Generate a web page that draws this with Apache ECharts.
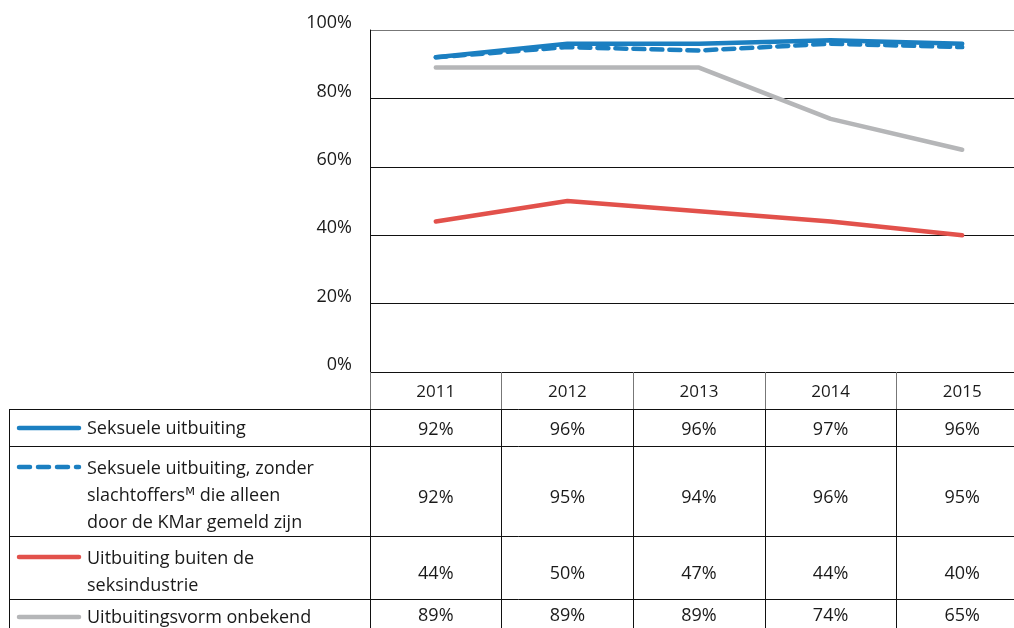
<!DOCTYPE html>
<html><head><meta charset="utf-8">
<script src="https://cdn.jsdelivr.net/npm/echarts@6/dist/echarts.min.js"></script>
<style>html,body{margin:0;padding:0;background:#fff;overflow:hidden;width:1014px;height:628px}#c{width:1028px;height:628px}</style>
</head><body><div id="c"></div>
<script>
const years = ['2011','2012','2013','2014','2015'];
const seksueel = [92, 96, 96, 97, 96];
const seksueelZonderKMar = [92, 95, 94, 96, 95];
const buitenSeks = [44, 50, 47, 44, 40];
const onbekend = [89, 89, 89, 74, 65];
const yTicks = [0, 20, 40, 60, 80, 100];

const FONT = '"Open Sans", "DejaVu Sans", sans-serif';
const TXT = '#1a1a1a';
const BLUE = '#1b7fc1', RED = '#e2514b', GRAY = '#b5b6b8';

const rows = [
  {off: 0,   h: 37, margin: 12, fs: 17, vals: null},
  {off: 37,  h: 37, margin: 12, fs: 18, vals: seksueel},
  {off: 74,  h: 90, margin: 43, fs: 18, vals: seksueelZonderKMar},
  {off: 164, h: 63, margin: 29, fs: 18, vals: buitenSeks},
  {off: 227, h: 40, margin: 8,  fs: 18, vals: onbekend}
];

const xAxes = rows.map((r, i) => ({
  type: 'category', data: years, gridIndex: 0, position: 'bottom', offset: r.off,
  boundaryGap: true,
  axisLine: {show: false},
  axisTick: {show: true, length: r.h, interval: 0, lineStyle: {color: i === 0 ? '#777' : '#111', width: 1}},
  axisLabel: {
    show: true, interval: 0, margin: r.margin, fontSize: r.fs, color: TXT, fontFamily: FONT,
    formatter: r.vals ? ((v, idx) => r.vals[idx] + '%') : (v => v)
  },
  splitLine: {show: false}
}));

const rowLines = [409, 446, 536, 599].map(y => ({
  type: 'line', shape: {x1: 9.5, y1: y + 0.5, x2: 1028, y2: y + 0.5},
  style: {stroke: '#111', lineWidth: 1}, z: 10
}));

const swatch = (y, color, dashed) => ({
  type: 'line', shape: {x1: 19, y1: y, x2: 79, y2: y},
  style: {stroke: color, lineWidth: 4.5, lineCap: 'round', lineDash: dashed ? [11, 8] : null}, z: 10
});
const label = (y, text) => ({
  type: 'text', x: 87, y: y,
  style: {text: text, fontSize: 18, fontFamily: FONT, fill: TXT, lineHeight: 27, verticalAlign: 'middle', align: 'left'}, z: 10
});

const chart = echarts.init(document.getElementById('c'), null, {renderer: 'canvas'});
chart.setOption({
  animation: false,
  backgroundColor: '#fff',
  grid: {left: 370, top: 30, right: 0, bottom: 256, containLabel: false},
  xAxis: xAxes,
  yAxis: {
    type: 'value', min: 0, max: 100, interval: 20,
    axisLine: {show: true, lineStyle: {color: '#111', width: 1}},
    axisTick: {show: false},
    axisLabel: {formatter: '{value}%', fontSize: 18, color: TXT, fontFamily: FONT, margin: 18,
                verticalAlign: 'bottom', lineHeight: 14},
    splitLine: {show: true, lineStyle: {color: ['#111', '#111', '#111', '#111', '#111', '#777'], width: 1}}
  },
  graphic: [
    ...rowLines,
    {type: 'line', shape: {x1: 9.5, y1: 409, x2: 9.5, y2: 628}, style: {stroke: '#111', lineWidth: 1}, z: 10},
    swatch(428, BLUE, false), label(429, 'Seksuele uitbuiting'),
    swatch(467, BLUE, true), label(496, 'Seksuele uitbuiting, zonder\nslachtoffersᴹ die alleen\ndoor de KMar gemeld zijn'),
    swatch(557, RED, false), label(572, 'Uitbuiting buiten de\nseksindustrie'),
    swatch(617, GRAY, false), label(618, 'Uitbuitingsvorm onbekend')
  ],
  series: [
    {name: 'Uitbuitingsvorm onbekend', type: 'line', data: onbekend, symbol: 'none',
     lineStyle: {color: GRAY, width: 4.5, cap: 'round'}},
    {name: 'Uitbuiting buiten de seksindustrie', type: 'line', data: buitenSeks, symbol: 'none',
     lineStyle: {color: RED, width: 4.5, cap: 'round'}},
    {name: 'Seksuele uitbuiting', type: 'line', data: seksueel, symbol: 'none',
     lineStyle: {color: BLUE, width: 4.5, cap: 'round'}},
    {name: 'Seksuele uitbuiting, zonder slachtoffers die alleen door de KMar gemeld zijn', type: 'line',
     data: seksueelZonderKMar, symbol: 'none',
     lineStyle: {color: BLUE, width: 4.5, type: [11, 7], cap: 'round'}}
  ]
});
</script></body></html>
